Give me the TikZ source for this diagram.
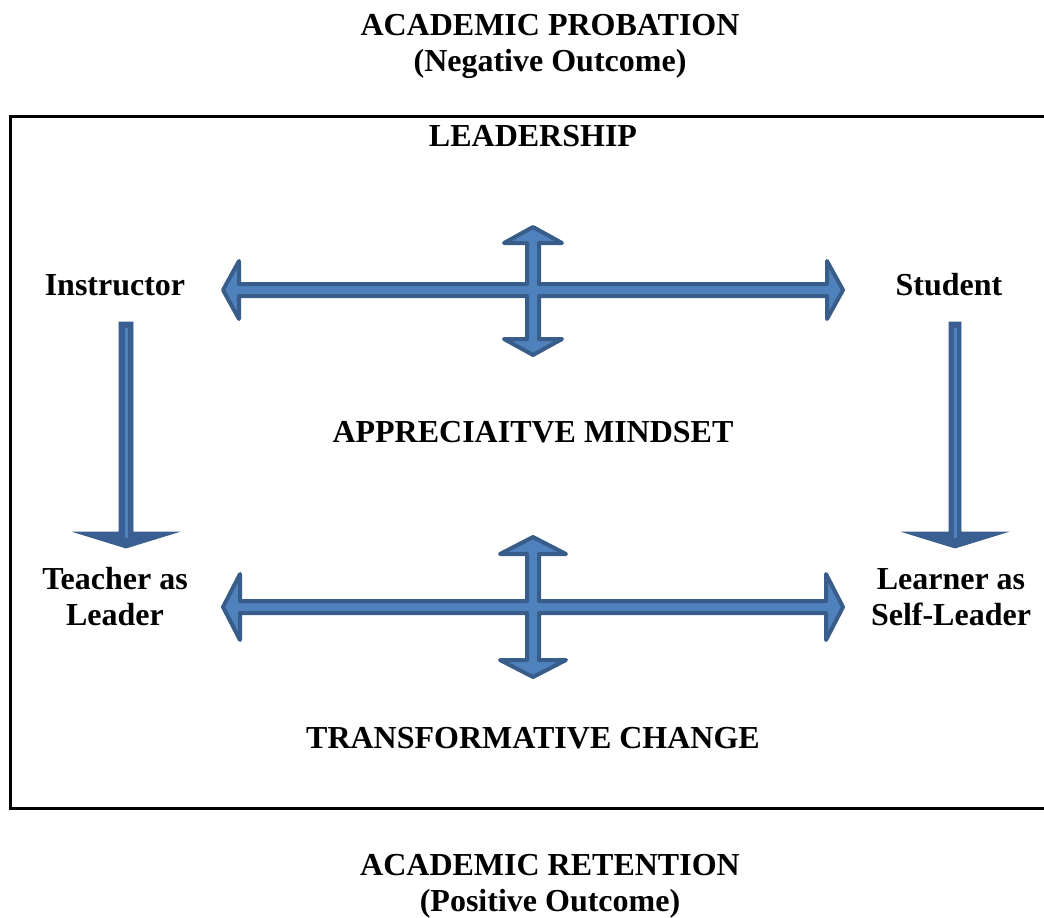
\documentclass[tikz,border=0pt]{standalone}
\usepackage{fontspec}
\setmainfont{Liberation Serif}
\usetikzlibrary{positioning}

\definecolor{arrowfill}{HTML}{4F81BD}
\definecolor{arrowline}{HTML}{385D8A}
\definecolor{shaftdark}{HTML}{3A5F92}

\tikzset{
  lbl/.style={font=\fontsize{16}{18}\selectfont\bfseries, inner sep=0pt, anchor=base, align=center},
  blockarrow/.style={fill=arrowfill, draw=arrowline, line width=2pt, line join=round},
  dropshaft/.style={fill=shaftdark, draw=arrowline, line width=0.4pt},
  dropstripe/.style={draw=arrowfill, line width=1.5pt},
}

% four-way block arrow: centre, half length, up, down, head length, head half-width
\newcommand{\crossarrow}[7]{%
  \begin{scope}[shift={(#1,#2)}]
    \filldraw[blockarrow]
      (#3-2,0) -- (#3-2-#6,#7) -- (#3-2-#6,6) -- (6,6) -- (6,#5-2-#6) -- (#7,#5-2-#6)
      -- (0,#5-2) -- (-#7,#5-2-#6) -- (-6,#5-2-#6) -- (-6,6) -- (-#3+2+#6,6)
      -- (-#3+2+#6,#7) -- (-#3+2,0) -- (-#3+2+#6,-#7) -- (-#3+2+#6,-6) -- (-6,-6)
      -- (-6,-#4+2+#6) -- (-#7,-#4+2+#6) -- (0,-#4+2) -- (#7,-#4+2+#6) -- (6,-#4+2+#6)
      -- (6,-6) -- (#3-2-#6,-6) -- (#3-2-#6,-#7) -- cycle;
  \end{scope}}

\begin{document}
\begin{tikzpicture}[x=0.5pt, y=-0.5pt]
  \useasboundingbox (0,0) rectangle (1044,917);

  % outer frame (right side runs off the page)
  \draw[line width=1.5pt] (1050,116) -- (10,116) -- (10,808) -- (1050,808);

  % headings
  \node[lbl] (probation) at (550,35) {ACADEMIC PROBATION};
  \node[lbl] (negative) at (550,71) {(Negative Outcome)};
  \node[lbl] (leadership) at (533,146) {LEADERSHIP};
  \node[lbl] (instructor) at (115,295) {Instructor};
  \node[lbl] (student) at (949,295) {Student};
  \node[lbl] (mindset) at (533,442) {APPRECIAITVE MINDSET};
  \node[lbl] (teacher) at (115,625) {Teacher as\\Leader};
  \node[lbl] (learner) at (951,625) {Learner as\\Self-Leader};
  \node[lbl] (change) at (533,748) {TRANSFORMATIVE CHANGE};
  \node[lbl] (retention) at (550,875) {ACADEMIC RETENTION};
  \node[lbl] (positive) at (550,911) {(Positive Outcome)};

  % cross arrows
  \crossarrow{533}{290}{312}{65}{67}{16}{29}
  \crossarrow{533}{607}{312}{72}{72}{17}{33}

  % downward arrows
  \filldraw[dropshaft] (119,322) -- (133,322) -- (133,532) -- (178,532) -- (126,548) -- (74,532) -- (119,532) -- cycle;
  \draw[dropstripe] (126,328) -- (126,538);
  \filldraw[dropshaft] (949,322) -- (961,322) -- (961,532) -- (1007,532) -- (955,548) -- (903,532) -- (949,532) -- cycle;
  \draw[dropstripe] (955,328) -- (955,538);
\end{tikzpicture}
\end{document}
